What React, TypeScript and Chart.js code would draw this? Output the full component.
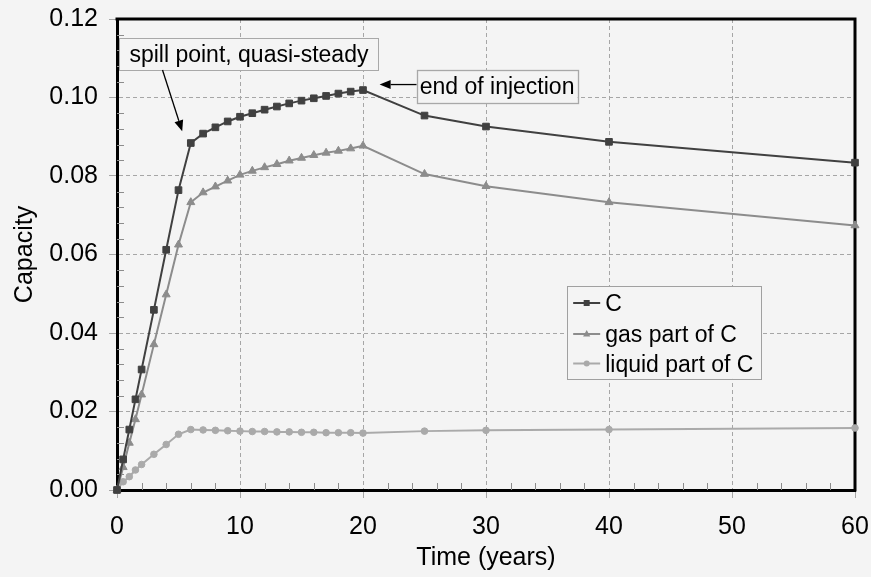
import React, { useEffect, useRef } from "react";
import { Chart, registerables } from "chart.js";

Chart.register(...registerables);

// ---- data ----
const timeYears = [0, 0.5, 1, 1.5, 2, 3, 4, 5, 6, 7, 8, 9, 10, 11, 12, 13, 14, 15, 16, 17, 18, 19, 20, 25, 30, 40, 60];
const capacityC = [0, 0.0078, 0.0154, 0.0231, 0.0307, 0.0459, 0.0612, 0.0764, 0.0884, 0.0908, 0.0924, 0.0939, 0.0951, 0.096, 0.0969, 0.0977, 0.0985, 0.0992, 0.0998, 0.1004, 0.101, 0.1015, 0.1019, 0.0954, 0.0926, 0.0887, 0.0834];
const gasPart = [0, 0.0058, 0.012, 0.018, 0.0243, 0.0371, 0.0498, 0.0625, 0.0733, 0.0758, 0.0773, 0.0788, 0.0803, 0.0813, 0.0822, 0.083, 0.0839, 0.0846, 0.0853, 0.0859, 0.0864, 0.087, 0.0877, 0.0805, 0.0774, 0.0733, 0.0674];
const liquidPart = [0, 0.0021, 0.0034, 0.0051, 0.0065, 0.0091, 0.0116, 0.0142, 0.0154, 0.0153, 0.0152, 0.0151, 0.015, 0.0149, 0.0149, 0.0148, 0.0148, 0.0147, 0.0147, 0.0146, 0.0146, 0.0146, 0.0145, 0.015, 0.0152, 0.0154, 0.0158];
const seriesLabels = ["C", "gas part of C", "liquid part of C"];
const xTickValues = [0, 10, 20, 30, 40, 50, 60];
const yTickValues = [0, 0.02, 0.04, 0.06, 0.08, 0.1, 0.12];
const annotationTexts = ["spill point, quasi-steady", "end of injection"];

const FONT = '"Liberation Sans", Arial, Helvetica, sans-serif';
const BG = "#f4f4f4";

function arrow(ctx: CanvasRenderingContext2D, x1: number, y1: number, x2: number, y2: number) {
  const ang = Math.atan2(y2 - y1, x2 - x1);
  const hl = 11;
  const hw = 4.5;
  const bx = x2 - hl * Math.cos(ang);
  const by = y2 - hl * Math.sin(ang);
  ctx.beginPath();
  ctx.moveTo(x1, y1);
  ctx.lineTo(bx, by);
  ctx.strokeStyle = "#000";
  ctx.lineWidth = 1.3;
  ctx.stroke();
  ctx.beginPath();
  ctx.moveTo(x2, y2);
  ctx.lineTo(bx + hw * Math.sin(ang), by - hw * Math.cos(ang));
  ctx.lineTo(bx - hw * Math.sin(ang), by + hw * Math.cos(ang));
  ctx.closePath();
  ctx.fillStyle = "#000";
  ctx.fill();
}

export default function App() {
  const ref = useRef<HTMLCanvasElement>(null);

  useEffect(() => {
    const canvas = ref.current;
    if (!canvas) return;

    const framePlugin = {
      id: "frame",
      beforeDatasetsDraw(chart: any) {
        const { ctx, chartArea: a, scales } = chart;
        ctx.save();
        ctx.strokeStyle = "#8c8c8c";
        ctx.lineWidth = 1;
        ctx.beginPath();
        for (let v = 2; v < 60; v += 2) {
          if (v % 10 === 0) continue;
          const px = Math.round(scales.x.getPixelForValue(v)) + 0.5;
          ctx.moveTo(px, a.bottom);
          ctx.lineTo(px, a.bottom - 7);
        }
        for (let k = 1; k < 30; k++) {
          if (k % 5 === 0) continue;
          const py = Math.round(scales.y.getPixelForValue(k * 0.004)) + 0.5;
          ctx.moveTo(a.left, py);
          ctx.lineTo(a.left + 7, py);
        }
        ctx.stroke();
        ctx.strokeStyle = "#000";
        ctx.lineWidth = 3;
        ctx.lineJoin = "miter";
        ctx.beginPath();
        ctx.moveTo(a.left - 1.5, a.top);
        ctx.lineTo(a.right, a.top);
        ctx.lineTo(a.right, a.bottom + 1.5);
        ctx.stroke();
        ctx.restore();
      },
      afterDatasetsDraw(chart: any) {
        const { ctx, scales } = chart;
        const X = (v: number) => scales.x.getPixelForValue(v);
        const Y = (v: number) => scales.y.getPixelForValue(v);
        ctx.save();
        ctx.font = `23px ${FONT}`;
        ctx.textBaseline = "alphabetic";
        ctx.textAlign = "center";

        // annotation 1: spill point
        const b1 = { l: X(0.2), r: X(21.25), t: Y(0.1152), b: Y(0.107) };
        ctx.fillStyle = BG;
        ctx.fillRect(b1.l, b1.t, b1.r - b1.l, b1.b - b1.t);
        ctx.strokeStyle = "#a8a8a8";
        ctx.lineWidth = 1;
        ctx.strokeRect(Math.round(b1.l) + 0.5, Math.round(b1.t) + 0.5, Math.round(b1.r - b1.l), Math.round(b1.b - b1.t));
        ctx.fillStyle = "#000";
        ctx.fillText(annotationTexts[0], (b1.l + b1.r) / 2, b1.b - 7.8);
        arrow(ctx, X(3.7), b1.b, X(5.3), Y(0.0914));

        // annotation 2: end of injection
        const b2 = { l: X(24.35), r: X(37.45), t: Y(0.107), b: Y(0.0987) };
        ctx.fillStyle = BG;
        ctx.fillRect(b2.l, b2.t, b2.r - b2.l, b2.b - b2.t);
        ctx.strokeStyle = "#a8a8a8";
        ctx.strokeRect(Math.round(b2.l) + 0.5, Math.round(b2.t) + 0.5, Math.round(b2.r - b2.l), Math.round(b2.b - b2.t));
        ctx.fillStyle = "#000";
        ctx.fillText(annotationTexts[1], (b2.l + b2.r) / 2, b2.b - 8.2);
        arrow(ctx, b2.l, Y(0.1033), X(21.35), Y(0.1033));

        // legend
        const lg = { l: X(36.6), r: X(52.4), t: Y(0.0519), b: Y(0.0283) };
        ctx.fillStyle = BG;
        ctx.fillRect(lg.l, lg.t, lg.r - lg.l, lg.b - lg.t);
        ctx.strokeStyle = "#a0a0a0";
        ctx.lineWidth = 1;
        ctx.strokeRect(Math.round(lg.l) + 0.5, Math.round(lg.t) + 0.5, Math.round(lg.r - lg.l), Math.round(lg.b - lg.t));
        ctx.textAlign = "left";
        const rowY = [303, 334, 363.5];
        chart.data.datasets.forEach((ds: any, i: number) => {
          const cy = rowY[i];
          const x0 = lg.l + 6;
          const x1 = lg.l + 33;
          ctx.strokeStyle = ds.borderColor;
          ctx.lineWidth = 2;
          ctx.beginPath();
          ctx.moveTo(x0, cy);
          ctx.lineTo(x1, cy);
          ctx.stroke();
          ctx.fillStyle = ds.borderColor;
          const cx = (x0 + x1) / 2;
          ctx.beginPath();
          if (ds.pointStyle === "rect") {
            ctx.rect(cx - 3, cy - 3, 6, 6);
          } else if (ds.pointStyle === "triangle") {
            ctx.moveTo(cx, cy - 4);
            ctx.lineTo(cx + 3.6, cy + 2.5);
            ctx.lineTo(cx - 3.6, cy + 2.5);
            ctx.closePath();
          } else {
            ctx.arc(cx, cy, 3, 0, Math.PI * 2);
          }
          ctx.fill();
          ctx.fillStyle = "#000";
          ctx.fillText(ds.label, lg.l + 38, cy + 8);
        });
        ctx.restore();
      },
    };

    const bgPlugin = {
      id: "bg",
      beforeDraw(chart: any) {
        const { ctx, width, height } = chart;
        ctx.save();
        ctx.fillStyle = BG;
        ctx.fillRect(0, 0, width, height);
        ctx.restore();
      },
    };

    const toPts = (ys: number[]) => timeYears.map((t, i) => ({ x: t, y: ys[i] }));

    const chart = new Chart(canvas, {
      type: "line",
      data: {
        datasets: [
          {
            label: seriesLabels[0],
            data: toPts(capacityC),
            borderColor: "#404040",
            backgroundColor: "#404040",
            pointBackgroundColor: "#404040",
            pointBorderColor: "#404040",
            borderWidth: 2,
            pointStyle: "rect",
            pointRadius: 4.7,
            pointBorderWidth: 1,
            tension: 0,
            clip: false,
          },
          {
            label: seriesLabels[1],
            data: toPts(gasPart),
            borderColor: "#8c8c8c",
            backgroundColor: "#8c8c8c",
            pointBackgroundColor: "#8c8c8c",
            pointBorderColor: "#8c8c8c",
            borderWidth: 2,
            pointStyle: "triangle",
            pointRadius: 4.6,
            pointBorderWidth: 1,
            tension: 0,
            clip: false,
          },
          {
            label: seriesLabels[2],
            data: toPts(liquidPart),
            borderColor: "#aaaaaa",
            backgroundColor: "#aaaaaa",
            pointBackgroundColor: "#aaaaaa",
            pointBorderColor: "#aaaaaa",
            borderWidth: 2,
            pointStyle: "circle",
            pointRadius: 3.3,
            pointBorderWidth: 1,
            tension: 0,
            clip: false,
          },
        ] as any,
      },
      options: {
        responsive: false,
        animation: false,
        devicePixelRatio: 1,
        layout: { padding: { left: 0, top: 19, right: 16, bottom: 0 } },
        plugins: {
          legend: { display: false },
          tooltip: { enabled: false },
        },
        scales: {
          x: {
            type: "linear",
            min: 0,
            max: 60,
            afterBuildTicks: (s: any) => {
              s.ticks = xTickValues.map((v) => ({ value: v }));
            },
            afterFit: (s: any) => {
              s.height = 87;
              s.paddingLeft = 0;
              s.paddingRight = 0;
            },
            ticks: {
              color: "#000",
              font: { family: FONT, size: 25 },
              padding: 14,
              maxRotation: 0,
              callback: (v: any) => String(v),
            },
            grid: {
              color: "#a6a6a6",
              lineWidth: 1,
              drawTicks: true,
              tickLength: 8,
              tickColor: "#a6a6a6",
              tickBorderDash: [],
            },
            border: { display: true, color: "#000", width: 3, dash: [4, 3] },
            title: {
              display: true,
              text: "Time (years)",
              color: "#000",
              font: { family: FONT, size: 25 },
              padding: { top: 0, bottom: 4 },
            },
          },
          y: {
            type: "linear",
            min: 0,
            max: 0.12,
            afterBuildTicks: (s: any) => {
              s.ticks = yTickValues.map((v) => ({ value: v }));
            },
            afterFit: (s: any) => {
              s.width = 117;
              s.paddingTop = 0;
              s.paddingBottom = 0;
            },
            ticks: {
              color: "#000",
              font: { family: FONT, size: 25 },
              padding: 11,
              callback: (v: any) => Number(v).toFixed(2),
            },
            grid: {
              color: "#a6a6a6",
              lineWidth: 1,
              drawTicks: true,
              tickLength: 8,
              tickColor: "#a6a6a6",
              tickBorderDash: [],
            },
            border: { display: true, color: "#000", width: 3, dash: [4, 3] },
            title: {
              display: true,
              text: "Capacity",
              color: "#000",
              font: { family: FONT, size: 25 },
              padding: { top: 10, bottom: 0 },
            },
          },
        },
      } as any,
      plugins: [bgPlugin, framePlugin],
    });

    return () => chart.destroy();
  }, []);

  return (
    <div style={{ position: "fixed", left: 0, top: 0, width: 871, height: 577, background: BG }}>
      <canvas ref={ref} width={871} height={577} style={{ display: "block", width: 871, height: 577 }} />
    </div>
  );
}
